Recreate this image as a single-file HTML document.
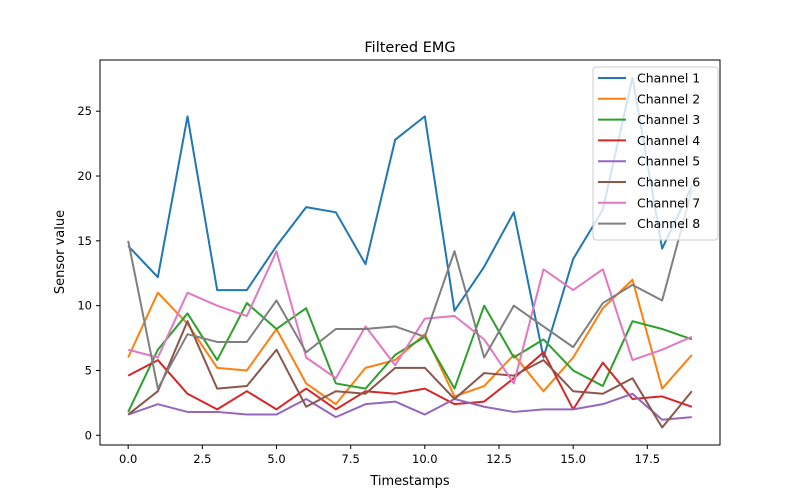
<!DOCTYPE html>
<html><head><meta charset="utf-8"><style>
body{margin:0;background:#fff;}
svg{display:block;font-family:"DejaVu Sans","Liberation Sans",sans-serif;}
</style></head><body>
<svg id="chart" width="800" height="500" viewBox="0 0 800 500">
<rect width="800" height="500" fill="#fff"/>
<text x="410" y="52" font-size="14.5" text-anchor="middle">Filtered EMG</text>
<g id="plot"></g>
<rect x="100" y="60" width="620" height="385" fill="none" stroke="#000" stroke-width="1"/>
<g id="axes"></g>
<text x="410" y="485" font-size="13" text-anchor="middle">Timestamps</text>
<text x="64" y="252" font-size="13" text-anchor="middle" transform="rotate(-90 64 252)">Sensor value</text>
<g id="legend"></g>
</svg>
<script>
const channelNames=["Channel 1","Channel 2","Channel 3","Channel 4","Channel 5","Channel 6","Channel 7","Channel 8"];
const colors=["#1f77b4","#ff7f0e","#2ca02c","#d62728","#9467bd","#8c564b","#e377c2","#7f7f7f"];
const ch1=[14.6,12.2,24.6,11.2,11.2,14.6,17.6,17.2,13.2,22.8,24.6,9.6,13.0,17.2,6.0,13.6,17.4,27.6,14.4,19.2];
const ch2=[6.0,11.0,8.6,5.2,5.0,8.2,4.0,2.4,5.2,5.8,7.8,3.0,3.8,6.2,3.4,6.0,9.8,12.0,3.6,6.2];
const ch3=[1.8,6.6,9.4,5.8,10.2,8.2,9.8,4.0,3.6,6.2,7.6,3.6,10.0,6.0,7.4,5.0,3.8,8.8,8.2,7.4];
const ch4=[4.6,5.8,3.2,2.0,3.4,2.0,3.6,2.0,3.4,3.2,3.6,2.4,2.6,4.4,6.4,2.0,5.6,2.8,3.0,2.2];
const ch5=[1.6,2.4,1.8,1.8,1.6,1.6,2.8,1.4,2.4,2.6,1.6,2.8,2.2,1.8,2.0,2.0,2.4,3.2,1.2,1.4];
const ch6=[1.6,3.4,8.8,3.6,3.8,6.6,2.2,3.4,3.2,5.2,5.2,2.8,4.8,4.6,5.8,3.4,3.2,4.4,0.6,3.4];
const ch7=[6.6,6.0,11.0,10.0,9.2,14.2,6.0,4.4,8.4,5.4,9.0,9.2,7.4,4.0,12.8,11.2,12.8,5.8,6.6,7.6];
const ch8=[15.0,3.6,7.8,7.2,7.2,10.4,6.4,8.2,8.2,8.4,7.6,14.2,6.0,10.0,8.4,6.8,10.2,11.6,10.4,18.9];
const xTicks=[0,2.5,5,7.5,10,12.5,15,17.5];
const xTickLabels=["0.0","2.5","5.0","7.5","10.0","12.5","15.0","17.5"];
const yTicks=[0,5,10,15,20,25];
const yTickLabels=["0","5","10","15","20","25"];

const series=[ch1,ch2,ch3,ch4,ch5,ch6,ch7,ch8];
const NS="http://www.w3.org/2000/svg";
const L=100,R=720,T=60,B=445;
const n=ch1.length;
const xMin=-0.05*(n-1),xMax=(n-1)*1.05;
let all=[].concat(...series);
let dMin=Math.min(...all),dMax=Math.max(...all),pad=(dMax-dMin)*0.05;
const yMin=dMin-pad,yMax=dMax+pad;
function xs(v){return L+(v-xMin)/(xMax-xMin)*(R-L);}
function ys(v){return B-(v-yMin)/(yMax-yMin)*(B-T);}
const plot=document.getElementById('plot'),axes=document.getElementById('axes'),legend=document.getElementById('legend');
function mk(tag,attrs,parent){const e=document.createElementNS(NS,tag);for(const k in attrs)e.setAttribute(k,attrs[k]);parent.appendChild(e);return e;}
series.forEach((s,si)=>{
  const p=mk('polyline',{points:s.map((v,i)=>xs(i).toFixed(2)+','+ys(v).toFixed(2)).join(' '),fill:'none',stroke:colors[si],'stroke-width':2,'stroke-linejoin':'round'},plot);
  
  
});
xTicks.forEach((t,i)=>{
  const x=xs(t);
  const l=mk('line',{x1:x,x2:x,y1:B,y2:B+4,stroke:'#000'},axes);
  
  
  const tx=mk('text',{x:x,y:B+18,'font-size':11.5,'text-anchor':'middle'},axes);
  tx.textContent=xTickLabels[i];
  
  
});
yTicks.forEach((t,i)=>{
  const y=ys(t);
  const l=mk('line',{x1:L-4,x2:L,y1:y,y2:y,stroke:'#000'},axes);
  
  
  const tx=mk('text',{x:L-8,y:y+4,'font-size':11.5,'text-anchor':'end'},axes);
  tx.textContent=yTickLabels[i];
  
  
});
const box=mk('rect',{x:593,y:67,width:125,height:173,rx:3,fill:'#fff','fill-opacity':0.8,stroke:'#ccc'},legend);


channelNames.forEach((nm,i)=>{
  const y=78+i*20.8;
  const g=mk('g',{},legend);
  
  
  mk('line',{x1:598,x2:626,y1:y,y2:y,stroke:colors[i],'stroke-width':2},g);
  const tx=mk('text',{x:637,y:y+4.5,'font-size':12.5},g);
  tx.textContent=nm;
});
</script>
</body></html>
